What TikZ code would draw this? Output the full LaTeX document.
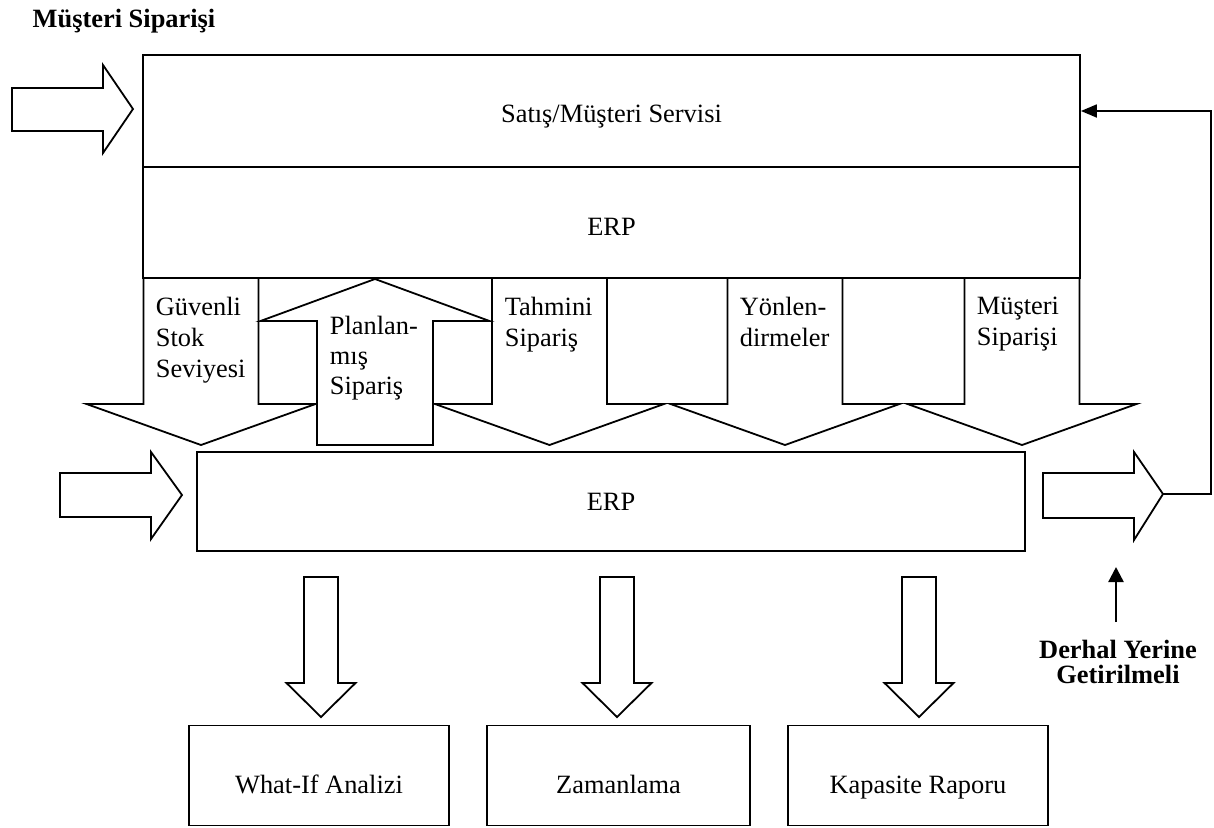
\documentclass[tikz,border=0pt]{standalone}
\usepackage{fontspec}
\setmainfont{Liberation Serif}
\usetikzlibrary{arrows.meta}
\begin{document}
\begin{tikzpicture}[x=1pt,y=-1pt,
  line width=1.8pt, line join=miter,
  every node/.style={font=\fontsize{26.4}{31}\selectfont},
  % the argument is twice the drop of the baseline below the box centre
  box/.style={draw, inner sep=0pt, align=center, text depth=0pt, text height=#1},
  box/.default=18pt,
  blockarrow/.style={draw, fill=white},
  tag/.style={inner sep=0pt, anchor=north west, align=left},
  boldtag/.style={font=\fontsize{26.4}{25}\selectfont\bfseries, align=center, inner sep=0pt},
  ptr/.style={-{Triangle[length=16pt,width=13pt]}},
  thinptr/.style={line width=2.4pt, -{Triangle[length=15pt,width=15pt]}}
]
\useasboundingbox (0,0) rectangle (1214,827);

% incoming customer order
\node[boldtag] (title) at (124,21) {Müşteri Siparişi};
\draw[blockarrow] (12,88) -- (103,88) -- (103,65) -- (133,109) -- (103,153) -- (103,131) -- (12,131) -- cycle;

% flows from the upper ERP down to the lower ERP
\foreach \c in {201,549.5,785,1022}
  \draw[blockarrow] (\c-57.5,278) -- (\c-57.5,404) -- (\c-114.5,404) -- (\c,445)
    -- (\c+114.5,404) -- (\c+57.5,404) -- (\c+57.5,278);

% planned order flows back up
\draw[blockarrow] (317,445) -- (317,321) -- (260.5,321) -- (375,279) -- (489.5,321)
  -- (433,321) -- (433,445) -- cycle;

% upper block: sales / customer service and ERP
\node[box=22pt, minimum width=937pt, minimum height=112pt] (sales) at (611.5,111) {Satış/Müşteri Servisi};
\node[box=25pt, minimum width=937pt, minimum height=111pt] (erptop) at (611.5,222.5) {ERP};

% flow labels
\node[tag] (lgs) at (155,296) {Güvenli\\Stok\\Seviyesi};
\node[tag, font=\fontsize{26.4}{30}\selectfont] (lps) at (329,315) {Planlan-\\mış\\Sipariş};
\node[tag] (lts) at (504,296) {Tahmini\\Sipariş};
\node[tag] (lyd) at (739,296) {Yönlen-\\dirmeler};
\node[tag] (lms) at (976,296) {Müşteri\\Siparişi};

% lower ERP with its input and output
\node[box=17pt, minimum width=828pt, minimum height=99pt] (erpbot) at (611,501.5) {ERP};
\draw[blockarrow] (60,473) -- (151,473) -- (151,452) -- (182,495) -- (151,539) -- (151,517) -- (60,517) -- cycle;
\draw[blockarrow] (1043,473) -- (1134,473) -- (1134,452) -- (1163,494) coordinate (rtip)
  -- (1134,540) -- (1134,518) -- (1043,518) -- cycle;

% feedback to sales / customer service
\coordinate (fbcorner) at (1211,494);
\draw[ptr] (rtip) -- (fbcorner) |- (sales.east);

% note under the feedback loop
\node[boldtag, anchor=north] (derhal) at (1118,639) {Derhal Yerine\\Getirilmeli};
\coordinate (dfoot) at (1116,622);
\coordinate (dhead) at (1116,567);
\draw[thinptr] (dfoot) -- (dhead);

% outputs
\foreach \c in {321,617,919}
  \draw[blockarrow] (\c-17,577) -- (\c-17,683) -- (\c-34.5,683) -- (\c,717)
    -- (\c+34.5,683) -- (\c+17,683) -- (\c+17,577) -- cycle;

\node[box=35pt, minimum width=260pt, minimum height=100pt] (whatif) at (319,775.5) {What-If Analizi};
\node[box=35pt, minimum width=263pt, minimum height=100pt] (zaman) at (618.5,775.5) {Zamanlama};
\node[box=35pt, minimum width=260pt, minimum height=100pt] (kapasite) at (918,775.5) {Kapasite Raporu};
\end{tikzpicture}
\end{document}
